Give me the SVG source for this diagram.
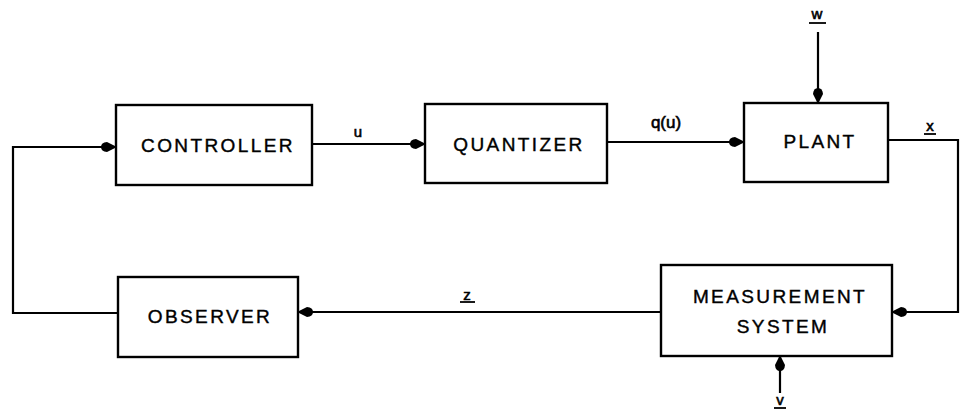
<svg xmlns="http://www.w3.org/2000/svg" width="961" height="415" viewBox="0 0 961 415">
  <style>
    .box { fill: #fff; stroke: #000; stroke-width: 2.4; }
    .wire { fill: none; stroke: #000; stroke-width: 2.2; }
    .lbl { font-family: "Liberation Sans", Arial, sans-serif; font-size: 19px; letter-spacing: 2.4px; fill: #000; stroke: #000; stroke-width: 0.4; text-anchor: middle; }
    .sig { font-family: "Liberation Sans", Arial, sans-serif; font-size: 15px; fill: #000; stroke: #000; stroke-width: 0.6; text-anchor: middle; }
    .ul { stroke: #000; stroke-width: 1.8; }
  </style>
  <defs>
    <!-- filled teardrop arrowhead, tip at the path end -->
    <marker id="arrow" markerUnits="userSpaceOnUse" markerWidth="20" markerHeight="14" viewBox="-18 -7 20 14" refX="0" refY="0" orient="auto">
      <path d="M1,0 L-9,-5 Q-15,-4.5 -15,0 Q-15,4.5 -9,5 Z" fill="#000"/>
    </marker>
  </defs>

  <g id="connectors">
    <path class="wire" d="M118,313 H13 V147 H116" marker-end="url(#arrow)"/>
    <path class="wire" d="M312,144 H425" marker-end="url(#arrow)"/>
    <path class="wire" d="M607,142 H744" marker-end="url(#arrow)"/>
    <path class="wire" d="M818,32 V103" marker-end="url(#arrow)"/>
    <path class="wire" d="M888,140 H958 V312 H892" marker-end="url(#arrow)"/>
    <path class="wire" d="M780,393 V356" marker-end="url(#arrow)"/>
    <path class="wire" d="M661,312 H298" marker-end="url(#arrow)"/>
  </g>

  <g id="signal-labels">
    <text class="sig" x="358" y="137">u</text>
    <text class="sig" x="666" y="128" style="font-size:17px">q(u)</text>
    <text class="sig" x="817" y="19">w</text>
    <line class="ul" x1="809" y1="23" x2="826" y2="23"/>
    <text class="sig" x="930" y="131">x</text>
    <line class="ul" x1="924" y1="134" x2="936" y2="134"/>
    <text class="sig" x="780" y="405">v</text>
    <line class="ul" x1="774" y1="408" x2="786" y2="408"/>
    <text class="sig" x="467" y="300">z</text>
    <line class="ul" x1="460" y1="302" x2="475" y2="302"/>
  </g>

  <g id="controller">
    <rect class="box" x="116" y="105" width="196" height="80"/>
    <text class="lbl" x="218" y="152">CONTROLLER</text>
  </g>
  <g id="quantizer">
    <rect class="box" x="425" y="104" width="182" height="79"/>
    <text class="lbl" x="519" y="151">QUANTIZER</text>
  </g>
  <g id="plant">
    <rect class="box" x="744" y="103" width="144" height="79"/>
    <text class="lbl" x="820" y="148">PLANT</text>
  </g>
  <g id="measurement-system">
    <rect class="box" x="661" y="265" width="231" height="91"/>
    <text class="lbl" x="780" y="303">MEASUREMENT</text>
    <text class="lbl" x="783" y="333">SYSTEM</text>
  </g>
  <g id="observer">
    <rect class="box" x="118" y="277" width="180" height="80"/>
    <text class="lbl" x="210" y="323">OBSERVER</text>
  </g>
</svg>
